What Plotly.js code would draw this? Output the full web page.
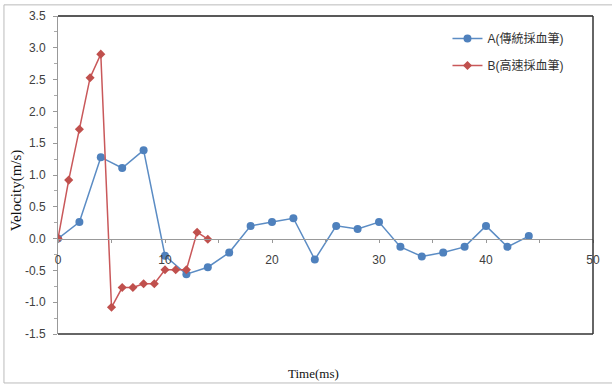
<!DOCTYPE html>
<html>
<head>
<meta charset="utf-8">
<script src="https://cdn.plot.ly/plotly-3.0.1.min.js"></script>
<style>html,body{margin:0;padding:0;background:#fff;}#chart{width:612px;height:387px;}</style>
</head>
<body>
<div id="chart"></div>
<script>
const seriesAName = 'A(傳統採血筆)';
const seriesBName = 'B(高速採血筆)';
const timeA = [0, 2, 4, 6, 8, 10, 12, 14, 16, 18, 20, 22, 24, 26, 28, 30, 32, 34, 36, 38, 40, 42, 44];
const velA = [0, 0.26, 1.28, 1.11, 1.39, -0.27, -0.56, -0.45, -0.22, 0.20, 0.26, 0.32, -0.33, 0.20, 0.15, 0.26, -0.13, -0.28, -0.22, -0.13, 0.20, -0.13, 0.04];
const timeB = [0, 1, 2, 3, 4, 5, 6, 7, 8, 9, 10, 11, 12, 13, 14];
const velB = [0, 0.92, 1.72, 2.53, 2.90, -1.08, -0.77, -0.77, -0.71, -0.71, -0.49, -0.49, -0.49, 0.10, -0.01];
const xTickVals = [0, 10, 20, 30, 40, 50];
const yTickVals = [-1.5, -1.0, -0.5, 0.0, 0.5, 1.0, 1.5, 2.0, 2.5, 3.0, 3.5];

const traces = [
  {x: timeA, y: velA, name: seriesAName, legendgroup: 'a', type: 'scatter', mode: 'lines+markers',
   line: {color: '#5b8cc4', width: 1.5}, marker: {symbol: 'circle', size: 8, color: '#4f81bd'}},
  {x: timeB, y: velB, name: seriesBName, legendgroup: 'b', type: 'scatter', mode: 'lines+markers',
   line: {color: '#c9585a', width: 1.5}, marker: {symbol: 'diamond', size: 7, color: '#c0504d'}}
];

const layout = {
  width: 612, height: 387,
  margin: {l: 58, r: 19, t: 16, b: 53},
  paper_bgcolor: '#fff', plot_bgcolor: '#fff',
  font: {family: 'Liberation Sans, Arial, sans-serif', size: 12, color: '#404040'},
  showlegend: true,
  legend: {x: 0.728, y: 0.975, xanchor: 'left', yanchor: 'top', bgcolor: 'rgba(0,0,0,0)',
           font: {family: 'Liberation Sans, Noto Sans CJK TC, sans-serif', size: 12, color: '#333'},
           tracegroupgap: 8, itemwidth: 30},
  xaxis: {range: [0, 50], tickvals: xTickVals, ticktext: xTickVals.map(String),
          anchor: 'free', position: 0.3, showline: true, linecolor: '#999', linewidth: 1,
          ticks: 'outside', ticklen: 3, tickcolor: '#999', ticklabelstandoff: 7,
          minor: {dtick: 5, ticks: 'outside', ticklen: 3, tickcolor: '#999'},
          showgrid: false, zeroline: false,
          tickfont: {size: 12, color: '#404040'}},
  yaxis: {range: [-1.5, 3.5], tickvals: yTickVals, ticktext: yTickVals.map(v => v.toFixed(1)),
          showline: true, linecolor: '#999', linewidth: 1, ticks: 'outside', ticklen: 4, tickcolor: '#999',
          ticklabelstandoff: 5,
          minor: {dtick: 0.25, ticks: 'outside', ticklen: 3, tickcolor: '#aaa'},
          showgrid: false, zeroline: false, tickfont: {size: 12, color: '#404040'}},
  shapes: [
    {type: 'line', xref: 'paper', yref: 'paper', x0: 0, x1: 1, y0: 1, y1: 1, line: {color: '#222', width: 1.5}},
    {type: 'line', xref: 'paper', yref: 'paper', x0: 1, x1: 1, y0: 0, y1: 1, line: {color: '#333', width: 1.5}},
    {type: 'line', xref: 'paper', yref: 'paper', x0: 0, x1: 1, y0: 0, y1: 0, line: {color: '#333', width: 1.5}},
    {type: 'rect', xref: 'paper', yref: 'paper', x0: -0.101, x1: 1.05, y0: -0.154, y1: 1.035, line: {color: '#bbb', width: 1}, layer: 'below'}
  ],
  annotations: [
    {text: 'Time(ms)', xref: 'paper', yref: 'paper', x: 0.477, y: -0.123, xanchor: 'center', yanchor: 'middle', showarrow: false,
     font: {family: 'Liberation Serif, Times New Roman, serif', size: 13, color: '#111'}},
    {text: 'Velocity(m/s)', xref: 'paper', yref: 'paper', x: -0.076, y: 0.453, xanchor: 'center', yanchor: 'middle', showarrow: false, textangle: -90,
     font: {family: 'Liberation Serif, Times New Roman, serif', size: 15, color: '#111'}}
  ]
};

Plotly.newPlot('chart', traces, layout, {displayModeBar: false, staticPlot: true});
</script>
</body>
</html>
